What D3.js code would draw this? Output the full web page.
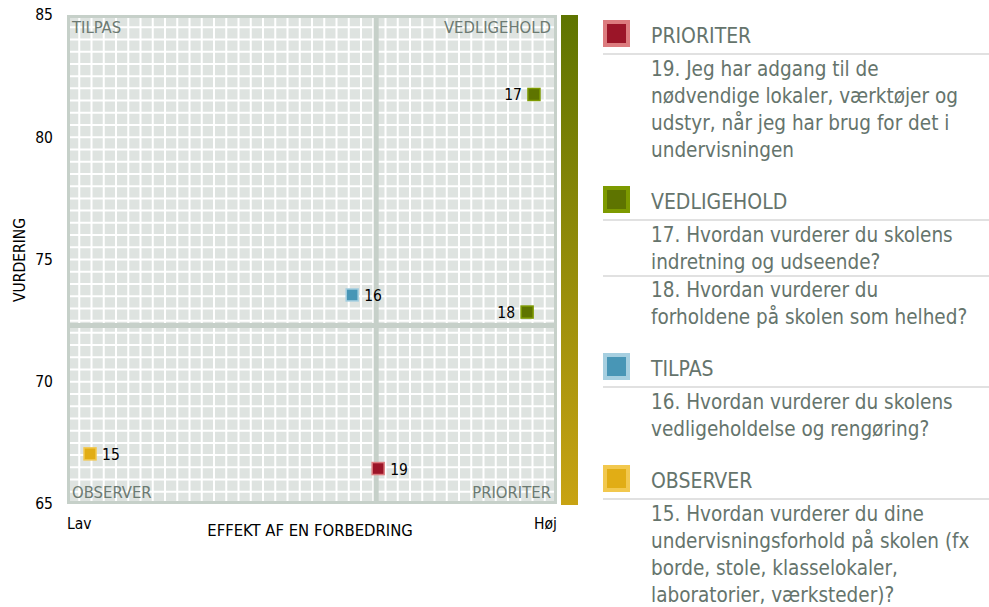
<!DOCTYPE html>
<html>
<head>
<meta charset="utf-8">
<script src="https://cdn.jsdelivr.net/npm/d3@7"></script>
<style>
  body { margin: 0; background: #fff; }
  svg text { font-family: "DejaVu Sans Condensed", "DejaVu Sans", sans-serif; }
</style>
</head>
<body>
<div class="visualization"></div>
<script>
// question ids, effect of an improvement (0 = Lav, 100 = Høj) and rating
const questionIds = [15, 16, 17, 18, 19];
const effect = [4.7, 58.2, 95.3, 93.9, 63.5];
const rating = [67.05, 73.55, 81.75, 72.85, 66.45];
const quadrantOf = ["OBSERVER", "TILPAS", "VEDLIGEHOLD", "VEDLIGEHOLD", "PRIORITER"];

// quadrant split
const effectSplit = 63.1;
const ratingSplit = 72.3;

const yTicks = [65, 70, 75, 80, 85];
const legendOrder = ["PRIORITER", "VEDLIGEHOLD", "TILPAS", "OBSERVER"];

const questionLines = {
    15: ["15. Hvordan vurderer du dine", "undervisningsforhold på skolen (fx", "borde, stole, klasselokaler,", "laboratorier, værksteder)?"],
    16: ["16. Hvordan vurderer du skolens", "vedligeholdelse og rengøring?"],
    17: ["17. Hvordan vurderer du skolens", "indretning og udseende?"],
    18: ["18. Hvordan vurderer du", "forholdene på skolen som helhed?"],
    19: ["19. Jeg har adgang til de", "nødvendige lokaler, værktøjer og", "udstyr, når jeg har brug for det i", "undervisningen"]
};

const fillColor = { PRIORITER: "#9b1528", VEDLIGEHOLD: "#5e7400", TILPAS: "#4896b6", OBSERVER: "#e1ad15" };
const edgeColor = { PRIORITER: "#dc7b7e", VEDLIGEHOLD: "#7d9a00", TILPAS: "#a6cfe0", OBSERVER: "#f2c84e" };

const svg = d3.select(".visualization").append("svg")
    .attr("width", 989)
    .attr("height", 607);

const pLeft = 67, pRight = 557, pTop = 15, pBottom = 504;
const x = d3.scaleLinear().domain([0, 100]).range([pLeft, pRight]);
const y = d3.scaleLinear().domain([65, 85]).range([pBottom, pTop]);

// background + cells
const plot = svg.append("g");
plot.append("rect")
    .attr("x", pLeft).attr("y", pTop)
    .attr("width", pRight - pLeft).attr("height", pBottom - pTop)
    .attr("fill", "#dee3e0");

const cells = 40;
const gx = d3.scaleLinear().domain([0, cells]).range([pLeft, pRight]);
const gy = d3.scaleLinear().domain([0, cells]).range([pTop, pBottom]);
plot.selectAll(".vgrid").data(d3.range(1, cells)).join("line")
    .attr("x1", d => gx(d)).attr("x2", d => gx(d))
    .attr("y1", pTop).attr("y2", pBottom)
    .attr("stroke", "#fff").attr("stroke-width", 2);
plot.selectAll(".hgrid").data(d3.range(1, cells)).join("line")
    .attr("y1", d => gy(d)).attr("y2", d => gy(d))
    .attr("x1", pLeft).attr("x2", pRight)
    .attr("stroke", "#fff").attr("stroke-width", 2);

// quadrant dividers
plot.append("line")
    .attr("x1", x(effectSplit)).attr("x2", x(effectSplit))
    .attr("y1", pTop).attr("y2", pBottom)
    .attr("stroke", "#c6d0c9").attr("stroke-width", 5);
plot.append("line")
    .attr("y1", y(ratingSplit)).attr("y2", y(ratingSplit))
    .attr("x1", pLeft).attr("x2", pRight)
    .attr("stroke", "#c6d0c9").attr("stroke-width", 5);

plot.append("rect")
    .attr("x", pLeft + 1.5).attr("y", pTop + 1.5)
    .attr("width", pRight - pLeft - 3).attr("height", pBottom - pTop - 3)
    .attr("fill", "none")
    .attr("stroke", "#c6d0c9").attr("stroke-width", 3);

// quadrant names
const qStyle = sel => sel.attr("fill", "#6c7a72").attr("font-size", 16.5);
plot.append("text").attr("x", pLeft + 5).attr("y", pTop + 18).text("TILPAS").call(qStyle);
plot.append("text").attr("x", pRight - 6).attr("y", pTop + 18).attr("text-anchor", "end").text("VEDLIGEHOLD").call(qStyle);
plot.append("text").attr("x", pLeft + 5).attr("y", pBottom - 6).text("OBSERVER").call(qStyle);
plot.append("text").attr("x", pRight - 6).attr("y", pBottom - 6).attr("text-anchor", "end").text("PRIORITER").call(qStyle);

// colour bar
const grad = svg.append("defs").append("linearGradient")
    .attr("id", "bar").attr("x1", 0).attr("y1", 0).attr("x2", 0).attr("y2", 1);
grad.append("stop").attr("offset", 0).attr("stop-color", "#5e7400");
grad.append("stop").attr("offset", 1).attr("stop-color", "#c8a313");
svg.append("rect")
    .attr("x", 561).attr("y", pTop).attr("width", 17).attr("height", pBottom - pTop + 1)
    .attr("fill", "url(#bar)");

// y axis
const yAxis = svg.append("g")
    .attr("transform", `translate(${pLeft},0)`)
    .call(d3.axisLeft(y).tickValues(yTicks).tickSize(0).tickPadding(14));
yAxis.select(".domain").remove();
yAxis.selectAll("text").attr("font-size", 15.5).attr("fill", "#000")
    .attr("font-family", "'DejaVu Sans Condensed', 'DejaVu Sans', sans-serif");

svg.append("text")
    .attr("transform", "translate(25,260) rotate(-90)")
    .attr("text-anchor", "middle")
    .attr("font-size", 15.5)
    .text("VURDERING");

// x labels
svg.append("text").attr("x", pLeft).attr("y", 529).attr("font-size", 15.5).text("Lav");
svg.append("text").attr("x", pRight).attr("y", 529).attr("text-anchor", "end").attr("font-size", 15.5).text("Høj");
svg.append("text").attr("x", 310).attr("y", 536).attr("text-anchor", "middle").attr("font-size", 16.5)
    .text("EFFEKT AF EN FORBEDRING");

// points
const pts = questionIds.map((id, i) => ({ id, ex: effect[i], r: rating[i], q: quadrantOf[i] }));
const pg = svg.selectAll(".pt").data(pts).join("g");
pg.append("rect")
    .attr("x", d => x(d.ex) - 6).attr("y", d => y(d.r) - 6)
    .attr("width", 12).attr("height", 12)
    .attr("fill", d => fillColor[d.q])
    .attr("stroke", d => edgeColor[d.q]).attr("stroke-width", 1.5);
pg.append("text")
    .attr("x", d => d.ex > 90 ? x(d.ex) - 12 : x(d.ex) + 12)
    .attr("y", d => y(d.r) + 6)
    .attr("text-anchor", d => d.ex > 90 ? "end" : "start")
    .attr("font-size", 15.5)
    .text(d => d.id);

// legend
const lg = svg.append("g");
const legX = 603, textX = 651, lineH = 27;
let base = 43;
legendOrder.forEach((cat, gi) => {
    if (gi > 0) base += 52;
    lg.append("rect")
        .attr("x", legX + 2).attr("y", base - 21)
        .attr("width", 23).attr("height", 23)
        .attr("fill", fillColor[cat])
        .attr("stroke", edgeColor[cat]).attr("stroke-width", 4);
    lg.append("text").attr("x", textX).attr("y", base)
        .attr("font-size", 21).attr("fill", "#65746c").text(cat);
    lg.append("line").attr("x1", legX).attr("x2", 989)
        .attr("y1", base + 11).attr("y2", base + 11)
        .attr("stroke", "#e1e1e1").attr("stroke-width", 2);
    base += 11;
    const ids = pts.filter(p => p.q === cat).map(p => p.id).sort((a, b) => a - b);
    ids.forEach((id, k) => {
        if (k > 0) {
            lg.append("line").attr("x1", legX).attr("x2", 989)
                .attr("y1", base + 7).attr("y2", base + 7)
                .attr("stroke", "#e1e1e1").attr("stroke-width", 2);
            base += 7 + 21;
        } else {
            base += 22;
        }
        questionLines[id].forEach((ln, li) => {
            if (li > 0) base += lineH;
            lg.append("text").attr("x", textX).attr("y", base)
                .attr("font-size", 20.5).attr("fill", "#65746c").text(ln);
        });
    });
});
</script>
</body>
</html>
